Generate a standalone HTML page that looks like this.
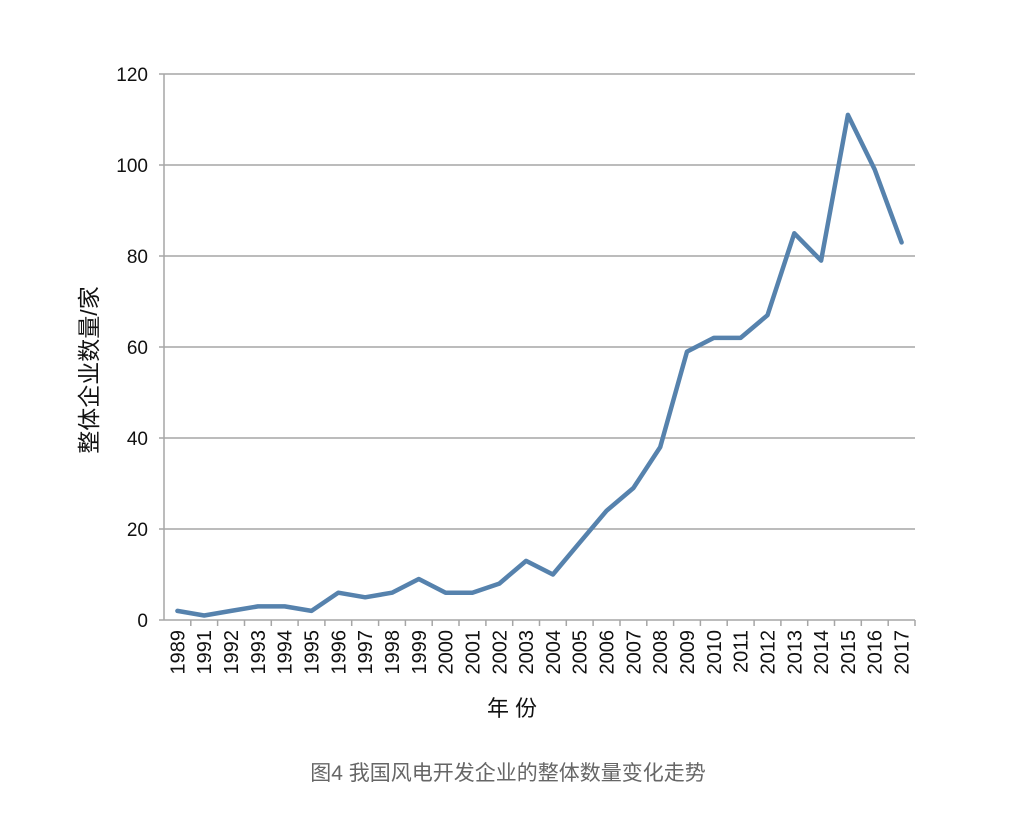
<!DOCTYPE html>
<html><head><meta charset="utf-8"><style>body{margin:0;background:#fff}svg{display:block}</style></head><body>
<svg width="1020" height="818" xmlns="http://www.w3.org/2000/svg" font-family="Liberation Sans, Noto Sans CJK SC, sans-serif">
<rect width="1020" height="818" fill="#fff"/>
<g stroke="#a6a6a6" stroke-width="1.5">
<line x1="159" y1="74" x2="915" y2="74"/><line x1="159" y1="165" x2="915" y2="165"/><line x1="159" y1="256" x2="915" y2="256"/><line x1="159" y1="347" x2="915" y2="347"/><line x1="159" y1="438" x2="915" y2="438"/><line x1="159" y1="529" x2="915" y2="529"/><line x1="159" y1="620" x2="915" y2="620"/>
<line x1="164" y1="74" x2="164" y2="620"/>
<path d="M190.8 620v6M217.6 620v6M244.5 620v6M271.3 620v6M298.1 620v6M324.9 620v6M351.7 620v6M378.6 620v6M405.4 620v6M432.2 620v6M459 620v6M485.9 620v6M512.7 620v6M539.5 620v6M566.3 620v6M593.1 620v6M620 620v6M646.8 620v6M673.6 620v6M700.4 620v6M727.2 620v6M754.1 620v6M780.9 620v6M807.7 620v6M834.5 620v6M861.3 620v6M888.2 620v6M915 620v6"/>
</g>
<g font-size="19" fill="#111" text-anchor="end">
<text x="148" y="81">120</text><text x="148" y="172">100</text><text x="148" y="263">80</text><text x="148" y="354">60</text><text x="148" y="445">40</text><text x="148" y="536">20</text><text x="148" y="627">0</text>
</g>
<g font-size="20" fill="#111" text-anchor="end">
<text transform="translate(184.4,630) rotate(-90)">1989</text>
<text transform="translate(211.2,630) rotate(-90)">1991</text>
<text transform="translate(238.1,630) rotate(-90)">1992</text>
<text transform="translate(264.9,630) rotate(-90)">1993</text>
<text transform="translate(291.7,630) rotate(-90)">1994</text>
<text transform="translate(318.5,630) rotate(-90)">1995</text>
<text transform="translate(345.3,630) rotate(-90)">1996</text>
<text transform="translate(372.2,630) rotate(-90)">1997</text>
<text transform="translate(399,630) rotate(-90)">1998</text>
<text transform="translate(425.8,630) rotate(-90)">1999</text>
<text transform="translate(452.6,630) rotate(-90)">2000</text>
<text transform="translate(479.4,630) rotate(-90)">2001</text>
<text transform="translate(506.3,630) rotate(-90)">2002</text>
<text transform="translate(533.1,630) rotate(-90)">2003</text>
<text transform="translate(559.9,630) rotate(-90)">2004</text>
<text transform="translate(586.7,630) rotate(-90)">2005</text>
<text transform="translate(613.5,630) rotate(-90)">2006</text>
<text transform="translate(640.4,630) rotate(-90)">2007</text>
<text transform="translate(667.2,630) rotate(-90)">2008</text>
<text transform="translate(694,630) rotate(-90)">2009</text>
<text transform="translate(720.8,630) rotate(-90)">2010</text>
<text transform="translate(747.6,630) rotate(-90)">2011</text>
<text transform="translate(774.5,630) rotate(-90)">2012</text>
<text transform="translate(801.3,630) rotate(-90)">2013</text>
<text transform="translate(828.1,630) rotate(-90)">2014</text>
<text transform="translate(854.9,630) rotate(-90)">2015</text>
<text transform="translate(881.7,630) rotate(-90)">2016</text>
<text transform="translate(908.6,630) rotate(-90)">2017</text>
</g>
<polyline fill="none" stroke="#5682ad" stroke-width="4.5" stroke-linejoin="round" stroke-linecap="round" points="177.4,610.9 204.2,615.5 231.1,610.9 257.9,606.4 284.7,606.4 311.5,610.9 338.3,592.7 365.2,597.3 392,592.7 418.8,579 445.6,592.7 472.4,592.7 499.3,583.6 526.1,560.9 552.9,574.5 579.7,542.6 606.5,510.8 633.4,488 660.2,447.1 687,351.6 713.8,337.9 740.6,337.9 767.5,315.2 794.3,233.3 821.1,260.6 847.9,114.9 874.7,169.5 901.6,242.4"/>
<text transform="translate(97,370) rotate(-90)" font-size="23" fill="#111" text-anchor="middle">整体企业数量/家</text>
<text x="512" y="716" font-size="22" fill="#111" text-anchor="middle">年 份</text>
<text x="508" y="780" font-size="21" fill="#666" text-anchor="middle">图4  我国风电开发企业的整体数量变化走势</text>
</svg>
</body></html>
